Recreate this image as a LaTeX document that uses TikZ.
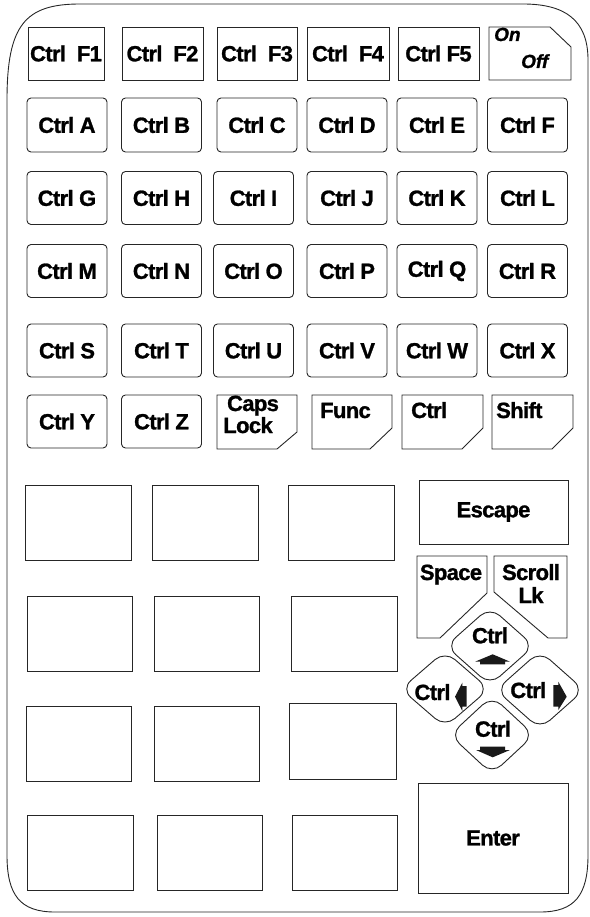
\documentclass[tikz,border=0pt]{standalone}
\usepackage{fontspec}
\setmainfont{Liberation Sans}[BoldFeatures={FakeBold=1.2},BoldItalicFeatures={FakeBold=1.2}]
\newfontfamily\keyf{Liberation Sans}[LetterSpace=-3,BoldFeatures={FakeBold=1.2}]
\usetikzlibrary{shapes.geometric}
\begin{document}
\begin{tikzpicture}[x=1pt,y=-1pt,
  kl/.style={draw=black!85,line width=0.9pt},
  kf/.style={font=\keyf\fontsize{22}{24}\selectfont\bfseries},
  rkey/.style={kl,kf,rounded corners=4pt,minimum width=80pt,minimum height=53pt,inner sep=0pt,outer sep=0pt},
  fkey/.style={kl,kf,minimum height=53pt,inner sep=0pt,outer sep=0pt},
  bkey/.style={kl,kf,minimum width=106pt,minimum height=75pt,inner sep=0pt,outer sep=0pt},
  akey/.style={kl,diamond,rounded corners=13pt,inner sep=0pt,outer sep=0pt},
  lbl/.style={kf,inner sep=0pt,anchor=base},
  lblw/.style={kf,inner sep=0pt,anchor=base west},
  oo/.style={font=\fontsize{19}{21}\selectfont\bfseries\itshape,inner sep=0pt,anchor=base west},
  arr/.style={fill=black!90}
]
\useasboundingbox (0,0) rectangle (589,917);
% outer case
\draw[kl] (7,100) -- (7,855) .. controls (7,895) and (20,912) .. (55,912)
  -- (540,912) .. controls (575,912) and (588,895) .. (588,855)
  -- (588,60) .. controls (588,20) and (565,4) .. (523,4)
  -- (80,4) .. controls (25,4) and (7,25) .. (7,100) -- cycle;
% row 1
\node[fkey,minimum width=76pt] (f1) at (66,53.5) {Ctrl\ \ F1};
\node[fkey,minimum width=81pt] (f2) at (162.5,53.5) {Ctrl\ \ F2};
\node[fkey,minimum width=80pt] (f3) at (257,53.5) {Ctrl\ \ F3};
\node[fkey,minimum width=82pt] (f4) at (348,53.5) {Ctrl\ \ F4};
\node[fkey,minimum width=81pt] (f5) at (438.5,53.5) {Ctrl F5};
\draw[kl] (489,27) -- (550,27) -- (571,47) -- (571,80) -- (489,80) -- cycle;
\node[oo] (on) at (494,41) {On};
\node[oo] (off) at (521,68) {Off};
% row 2
\node[rkey,minimum height=54pt] (ka) at (67,125) {Ctrl A};
\node[rkey,minimum height=54pt] (kb) at (161.5,125) {Ctrl B};
\node[rkey,minimum height=54pt] (kc) at (257,125) {Ctrl C};
\node[rkey,minimum height=54pt] (kd) at (347,125) {Ctrl D};
\node[rkey,minimum height=54pt] (ke) at (437,125) {Ctrl E};
\node[rkey,minimum height=54pt] (kf) at (527.5,125) {Ctrl F};
% row 3
\node[rkey] (kg) at (67,198) {Ctrl G};
\node[rkey] (kh) at (161.5,198) {Ctrl H};
\node[rkey] (ki) at (253.5,198) {Ctrl I};
\node[rkey] (kj) at (347,198) {Ctrl J};
\node[rkey] (kk) at (437,198) {Ctrl K};
\node[rkey] (kl) at (527.5,198) {Ctrl L};
% row 4
\node[rkey] (km) at (67,271) {Ctrl M};
\node[rkey] (kn) at (161.5,271) {Ctrl N};
\node[rkey] (ko) at (253.5,271) {Ctrl O};
\node[rkey] (kp) at (347,271) {Ctrl P};
\node[rkey] (kq) at (437,271) {Ctrl Q};
\node[rkey] (kr) at (527.5,271) {Ctrl R};
% row 5
\node[rkey] (ks) at (67,350.5) {Ctrl S};
\node[rkey] (kt) at (161.5,350.5) {Ctrl T};
\node[rkey] (ku) at (253.5,350.5) {Ctrl U};
\node[rkey] (kv) at (347,350.5) {Ctrl V};
\node[rkey] (kw) at (437,350.5) {Ctrl W};
\node[rkey] (kx) at (527.5,350.5) {Ctrl X};
% row 6
\node[rkey] (ky) at (67,421.5) {Ctrl Y};
\node[rkey] (kz) at (161.5,421.5) {Ctrl Z};
\draw[kl] (217,395) -- (297,395) -- (297,432) -- (277,449) -- (217,449) -- cycle;
\node[lbl] (caps) at (253,411) {Caps};
\node[lbl] (lock) at (248,433) {Lock};
\draw[kl] (312,395) -- (392,395) -- (392,428) -- (370,449) -- (312,449) -- cycle;
\node[lblw] (func) at (320,418) {Func};
\draw[kl] (402,395) -- (483,395) -- (483,428) -- (462,449) -- (402,449) -- cycle;
\node[lblw] (ctrlm) at (411,418) {Ctrl};
\draw[kl] (492,395) -- (573,395) -- (573,428) -- (552,449) -- (492,449) -- cycle;
\node[lblw] (shift) at (496,418) {Shift};
% blank keys
\node[bkey] (b11) at (78,522.5) {};
\node[bkey] (b12) at (205,522.5) {};
\node[bkey] (b13) at (341,522.5) {};
\node[bkey,minimum width=105pt] (b21) at (79.5,633.5) {};
\node[bkey,minimum width=105pt] (b22) at (206.5,633.5) {};
\node[bkey] (b23) at (344,633.5) {};
\node[bkey,minimum width=105pt] (b31) at (78.5,743.5) {};
\node[bkey,minimum width=105pt] (b32) at (206.5,743.5) {};
\node[bkey,minimum width=107pt,minimum height=76pt] (b33) at (342.5,741) {};
\node[bkey] (b41) at (80,852.5) {};
\node[bkey,minimum width=105pt] (b42) at (209.5,852.5) {};
\node[bkey,minimum width=105pt] (b43) at (344.5,852.5) {};
% escape, enter
\node[bkey,minimum width=149pt,minimum height=64pt] (esc) at (493.5,512) {Escape};
\node[bkey,minimum width=150pt,minimum height=110pt] (enter) at (493,838) {Enter};
% space, scroll
\draw[kl] (417,556) -- (487,556) -- (487,593) -- (440,638) -- (417,638) -- cycle;
\node[lbl] (space) at (451,580) {Space};
\draw[kl] (494,556) -- (567,556) -- (567,638) -- (548,638) -- (494,592) -- cycle;
\node[lbl] (scroll) at (531,580) {Scroll};
\node[lbl] (lk) at (531,603) {Lk};
% arrow keys
\node[akey,minimum width=88pt,minimum height=78pt] (up) at (490,646) {};
\node[akey,minimum width=88pt,minimum height=76pt] (left) at (445,689) {};
\node[akey,minimum width=88pt,minimum height=78pt] (right) at (540,690) {};
\node[akey,minimum width=84pt,minimum height=78pt] (down) at (492,735) {};
\node[lbl] (upt) at (490,643.3) {Ctrl};
\node[lbl] (lft) at (432.5,700) {Ctrl};
\node[lbl] (rtt) at (528.3,698) {Ctrl};
\node[lbl] (dnt) at (493,736.7) {Ctrl};
\fill[arr] (492.7,654.3) -- (510,661.7) -- (505,661.7) -- (505,664.3) -- (480,664.3) -- (480,661.7) -- (475,661.7) -- cycle;
\fill[arr] (455,696.7) -- (462.3,682.7) -- (462.3,686) -- (466.7,686) -- (466.7,706.7) -- (462.3,706.7) -- (462.3,711) -- cycle;
\fill[arr] (566.7,696.7) -- (558.3,710) -- (558.3,706.7) -- (553.3,706.7) -- (553.3,685) -- (558.3,685) -- (558.3,681.7) -- cycle;
\fill[arr] (492.7,757.3) -- (476,750) -- (480,750) -- (480,746.7) -- (505,746.7) -- (505,750) -- (510,750) -- cycle;
\end{tikzpicture}
\end{document}
